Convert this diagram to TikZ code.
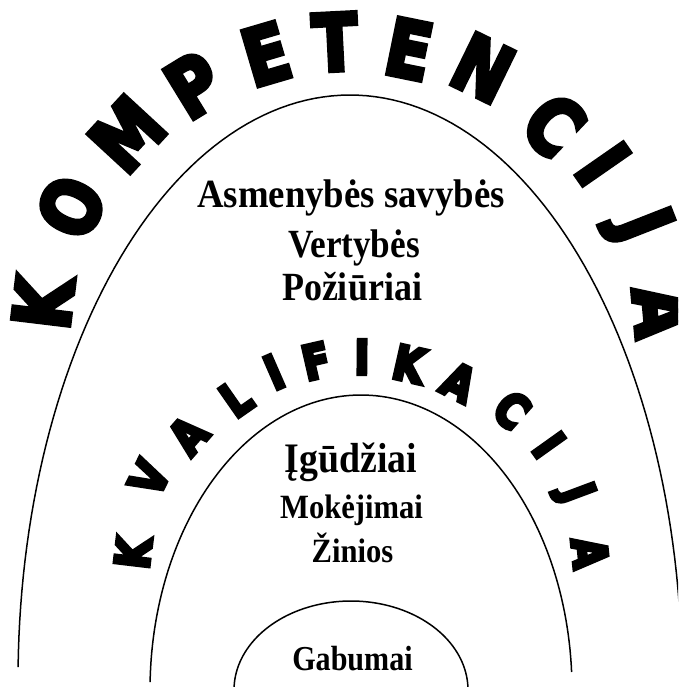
\documentclass[tikz,border=0pt]{standalone}
\usepackage{fontspec}
\setmainfont{Liberation Serif}
\newfontfamily\heavyfont{DejaVu Sans}
\def\strokew{4}
\newcommand\fat[1]{\special{pdf:literal direct 2 Tr \strokew\space w 0 j 3 M}#1\special{pdf:literal direct 0 Tr}}
\newcommand\bigch[1]{\scalebox{0.84}[1]{\fat{#1}}}
\begin{document}
\begin{tikzpicture}[x=1pt,y=-1pt,
  arch/.style={line width=1.5pt},
  bigl/.style={font=\heavyfont\bfseries\fontsize{78}{78}\selectfont\def\strokew{5}, inner sep=0pt},
  midl/.style={font=\heavyfont\bfseries\fontsize{47}{47}\selectfont\def\strokew{4}, inner sep=0pt},
  txtA/.style={font=\bfseries\fontsize{40}{40}\selectfont, inner sep=0pt, anchor=base},
  txtB/.style={font=\bfseries\fontsize{34}{34}\selectfont, inner sep=0pt, anchor=base}]
\useasboundingbox (0,0) rectangle (678,687);
\clip (0,0) rectangle (678,687);
% arches
\draw[arch] plot[domain=181.27:360, samples=120] ({350+332*cos(\x)}, {680+585*sin(\x)});
\draw[arch] plot[domain=181.55:356.5, samples=120] ({361+211*cos(\x)}, {690+295*sin(\x)});
\draw[arch] plot[domain=180:360, samples=80] ({351+117*cos(\x)}, {690+89*sin(\x)});
% KOMPETENCIJA
\node[bigl, rotate=83.1] (c1) at (43,303) {\bigch{K}};
\node[bigl, rotate=64.5] (c2) at (71,207) {\bigch{O}};
\node[bigl, rotate=47.3] (c3) at (127,134) {\bigch{M}};
\node[bigl, rotate=31.5] (c4) at (194,85) {\bigch{P}};
\node[bigl, rotate=16.4] (c5) at (266,54) {\bigch{E}};
\node[bigl, rotate=2.9] (c6) at (335,42) {\bigch{T}};
\node[bigl, rotate=-11.5] (c7) at (409,49) {\bigch{E}};
\node[bigl, rotate=-26] (c8) at (483,68) {\bigch{N}};
\node[bigl, rotate=-43.5] (c9) at (554,125) {\bigch{C}};
\node[bigl, rotate=-55.2] (c10) at (603,164) {\bigch{I}};
\node[bigl, rotate=-68.6] (c11) at (638,227) {\bigch{J}};
\node[bigl, rotate=-84.9] (c12) at (663,312) {\bigch{A}};
% KVALIFIKACIJA
\node[midl, rotate=83.2] (q1) at (133,553) {\bigch{K}};
\node[midl, rotate=63.9] (q2) at (149,478) {\bigch{V}};
\node[midl, rotate=48.8] (q3) at (188,435) {\bigch{A}};
\node[midl, rotate=34.9] (q4) at (236,398) {\bigch{L}};
\node[midl, rotate=23.6] (q5) at (274,372) {\bigch{I}};
\node[midl, rotate=12.9] (q6) at (316,361) {\bigch{F}};
\node[midl, rotate=-0.5] (q7) at (362,357) {\bigch{I}};
\node[midl, rotate=-12.7] (q8) at (409,364) {\bigch{K}};
\node[midl, rotate=-26.7] (q9) at (459,382) {\bigch{A}};
\node[midl, rotate=-41.5] (q10) at (512,410) {\bigch{C}};
\node[midl, rotate=-54.5] (q11) at (549,445) {\bigch{I}};
\node[midl, rotate=-69.5] (q12) at (574,494) {\bigch{J}};
\node[midl, rotate=-84.1] (q13) at (590,553) {\bigch{A}};
% texts
\node[txtA] (t1) at (351,207) {\scalebox{0.92}[1]{Asmenybės savybės}};
\node[txtA] (t2) at (354,257) {\scalebox{0.88}[1]{Vertybės}};
\node[txtA] (t3) at (352,300) {\scalebox{0.9}[1]{Požiūriai}};
\node[txtA, font=\bfseries\fontsize{42}{42}\selectfont] (t4) at (351,472) {\scalebox{0.9}[1]{Įgūdžiai}};
\node[txtB] (t5) at (351.5,518) {\scalebox{0.9}[1]{Mokėjimai}};
\node[txtB] (t6) at (352.5,562) {\scalebox{0.9}[1]{Žinios}};
\node[txtB, font=\bfseries\fontsize{35}{35}\selectfont] (t7) at (352.5,670) {\scalebox{0.86}[1]{Gabumai}};
\end{tikzpicture}
\end{document}
